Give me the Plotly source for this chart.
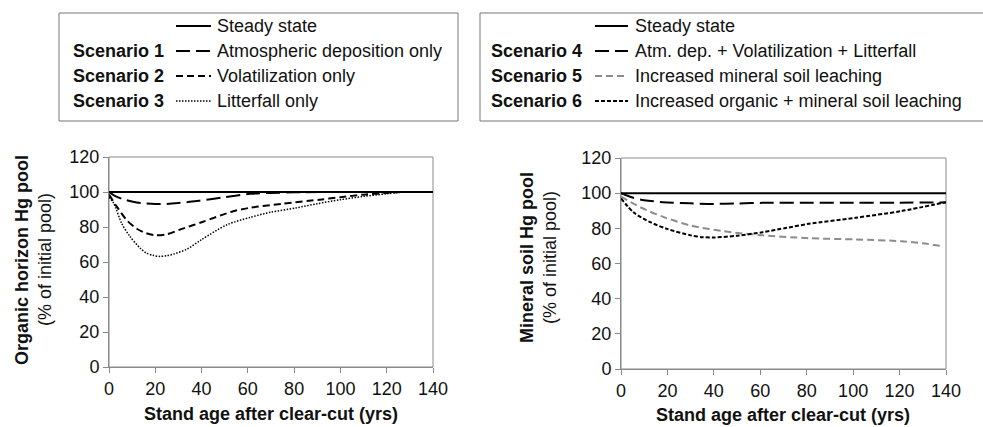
import plotly.graph_objects as go

W, H = 983, 427

# ---------------- data ----------------
years_ss = [0, 140]
steady = [100, 100]

# Organic horizon (left)
yr_s1 = [0, 3, 7, 12, 16, 20, 25, 30, 39, 50, 61, 70, 80, 100, 120, 140]
org_s1 = [100, 97.5, 95.5, 94.0, 93.4, 93.1, 93.2, 93.7, 95.0, 97.0, 99.0, 99.5, 99.8, 100, 100, 100]

yr_s2 = [0, 3.3, 7.6, 12, 16, 20, 25, 30.6, 40, 53.7, 61, 75, 91, 100, 110, 120, 127]
org_s2 = [98.5, 91.8, 84.0, 79.0, 76.5, 75.3, 75.8, 78.5, 82.7, 89.0, 91.0, 93.3, 95.6, 97.0, 98.5, 99.5, 100]

yr_s3 = [0, 2, 5.5, 9, 13.4, 16, 19, 22, 25, 27.8, 33.5, 40, 51, 61, 70, 80.7, 90, 100, 110, 120, 127]
org_s3 = [97, 93.7, 82.0, 74.7, 68.0, 65.2, 63.8, 63.2, 63.6, 64.5, 67.2, 72.8, 81.3, 85.5, 88.5, 90.9, 93.3, 95.6, 97.5, 99.0, 100]

# Mineral soil (right)
yr_s4 = [0, 5, 10, 18, 30, 40, 50, 61, 80, 100, 120, 140]
min_s4 = [100, 97.5, 96.0, 94.9, 94.2, 93.9, 94.1, 94.5, 94.6, 94.6, 94.6, 94.7]

yr_s5 = [0, 8.3, 18.4, 30, 44, 61, 81, 101, 120.7, 130, 139]
min_s5 = [98, 92.0, 86.4, 81.6, 78.4, 76.0, 74.4, 73.7, 72.7, 71.5, 69.7]

yr_s6 = [0, 5.5, 12.6, 19.8, 30, 35, 40, 50, 61, 71.4, 81, 101, 120.7, 140]
min_s6 = [97, 89.0, 83.5, 79.7, 76.0, 75.0, 74.8, 75.8, 77.8, 80.3, 82.6, 86.0, 89.8, 94.9]

x_ticks = [0, 20, 40, 60, 80, 100, 120, 140]
y_ticks = [0, 20, 40, 60, 80, 100, 120]

left_legend = [
    ("", "Steady state"),
    ("Scenario 1", "Atmospheric deposition only"),
    ("Scenario 2", "Volatilization only"),
    ("Scenario 3", "Litterfall only"),
]
right_legend = [
    ("", "Steady state"),
    ("Scenario 4", "Atm. dep. + Volatilization + Litterfall"),
    ("Scenario 5", "Increased mineral soil leaching"),
    ("Scenario 6", "Increased organic + mineral soil leaching"),
]

# ---------------- styles ----------------
FONT = "Arial, Liberation Sans, sans-serif"
FS = 18
TXT = "#111111"
BLACK = "#000000"
GRAY_LINE = "#8c8c8c"
FRAME = "#8a8a8a"

st_steady = dict(color=BLACK, width=2, dash="solid")
st_s1 = dict(color=BLACK, width=2, dash="14px,6px")
st_s2 = dict(color=BLACK, width=2, dash="7px,4px")
st_s3 = dict(color=BLACK, width=1.5, dash="1.5px,1.5px")
st_s5 = dict(color=GRAY_LINE, width=2, dash="7px,4px")
st_s6 = dict(color=BLACK, width=2, dash="4px,2px")

def px_x(p):
    return p / W

def px_y(p):
    return 1 - p / H

fig = go.Figure()

def add(x, y, line, xa, ya):
    fig.add_trace(go.Scatter(x=x, y=y, mode="lines", line=dict(shape="spline", smoothing=0.8, **line),
                             xaxis=xa, yaxis=ya, showlegend=False, hoverinfo="skip"))

add(years_ss, steady, st_steady, "x", "y")
add(yr_s1, org_s1, st_s1, "x", "y")
add(yr_s2, org_s2, st_s2, "x", "y")
add(yr_s3, org_s3, st_s3, "x", "y")

add(years_ss, steady, st_steady, "x2", "y2")
add(yr_s4, min_s4, st_s1, "x2", "y2")
add(yr_s5, min_s5, st_s5, "x2", "y2")
add(yr_s6, min_s6, st_s6, "x2", "y2")

axis_common = dict(showgrid=False, zeroline=False, showline=True, linecolor=FRAME, linewidth=1,
                   ticks="outside", ticklen=5, tickcolor=FRAME, tickwidth=1, automargin=False,
                   tickfont=dict(family=FONT, size=FS, color=TXT))

left_x_dom = [px_x(109), px_x(433)]
left_y_dom = [px_y(367), px_y(157)]
right_x_dom = [px_x(621), px_x(946)]
right_y_dom = [px_y(369), px_y(158)]

fig.update_layout(
    width=W, height=H, margin=dict(l=0, r=0, t=0, b=0, autoexpand=False),
    paper_bgcolor="white", plot_bgcolor="white",
    xaxis=dict(domain=left_x_dom, range=[0, 140], tickvals=x_ticks, anchor="y", **axis_common),
    yaxis=dict(domain=left_y_dom, range=[0, 120], tickvals=y_ticks, anchor="x", **axis_common),
    xaxis2=dict(domain=right_x_dom, range=[0, 140], tickvals=x_ticks, anchor="y2", **axis_common),
    yaxis2=dict(domain=right_y_dom, range=[0, 120], tickvals=y_ticks, anchor="x2", **axis_common),
)

shapes = []
annotations = []

# plot frames (top/right borders)
for xr, yr in (("x domain", "y domain"), ("x2 domain", "y2 domain")):
    shapes.append(dict(type="rect", xref=xr, yref=yr, x0=0, x1=1, y0=0, y1=1,
                       line=dict(color=FRAME, width=1), layer="below"))

# axis titles
for xc, yc in ((271, 414), (783, 415)):
    annotations.append(dict(text="<b>Stand age after clear-cut (yrs)</b>", x=px_x(xc), y=px_y(yc),
                            xref="paper", yref="paper", showarrow=False, xanchor="center", yanchor="middle",
                            font=dict(family=FONT, size=FS, color=TXT)))

for x1, x2, yc, title in ((22, 45, 260, "Organic horizon Hg pool"), (527, 550, 258, "Mineral soil Hg pool")):
    annotations.append(dict(text="<b>" + title + "</b>", x=px_x(x1), y=px_y(yc), xref="paper", yref="paper",
                            showarrow=False, textangle=-90, xanchor="center", yanchor="middle",
                            font=dict(family=FONT, size=FS, color=TXT)))
    annotations.append(dict(text="(% of initial pool)", x=px_x(x2), y=px_y(yc), xref="paper", yref="paper",
                            showarrow=False, textangle=-90, xanchor="center", yanchor="middle",
                            font=dict(family=FONT, size=FS, color=TXT)))

# legends
def legend(box_x0, box_x1, label_right, line_x0, line_x1, text_x, entries, styles):
    shapes.append(dict(type="rect", xref="paper", yref="paper", x0=px_x(box_x0), x1=px_x(box_x1),
                       y0=px_y(121), y1=px_y(13), line=dict(color="#777", width=1)))
    rows = [26, 51, 76, 101]
    for (lab, txt), st, ry in zip(entries, styles, rows):
        shapes.append(dict(type="line", xref="paper", yref="paper", x0=px_x(line_x0), x1=px_x(line_x1),
                           y0=px_y(ry), y1=px_y(ry), line=st))
        if lab:
            annotations.append(dict(text="<b>" + lab + "</b>", x=px_x(label_right), y=px_y(ry),
                                    xref="paper", yref="paper", showarrow=False, xanchor="right",
                                    yanchor="middle", font=dict(family=FONT, size=FS, color=TXT)))
        annotations.append(dict(text=txt, x=px_x(text_x), y=px_y(ry), xref="paper", yref="paper",
                                showarrow=False, xanchor="left", yanchor="middle",
                                font=dict(family=FONT, size=FS, color=TXT)))

legend(59, 458, 166, 176, 211, 215, left_legend, [st_steady, st_s1, st_s2, st_s3])
legend(480, 995, 584, 595, 628, 633, right_legend, [st_steady, st_s1, st_s5, st_s6])

fig.update_layout(shapes=shapes, annotations=annotations)

fig.write_html("out.html", config={"displayModeBar": False, "staticPlot": True},
               post_script="document.body.style.margin='0px';document.body.style.overflow='hidden';")
